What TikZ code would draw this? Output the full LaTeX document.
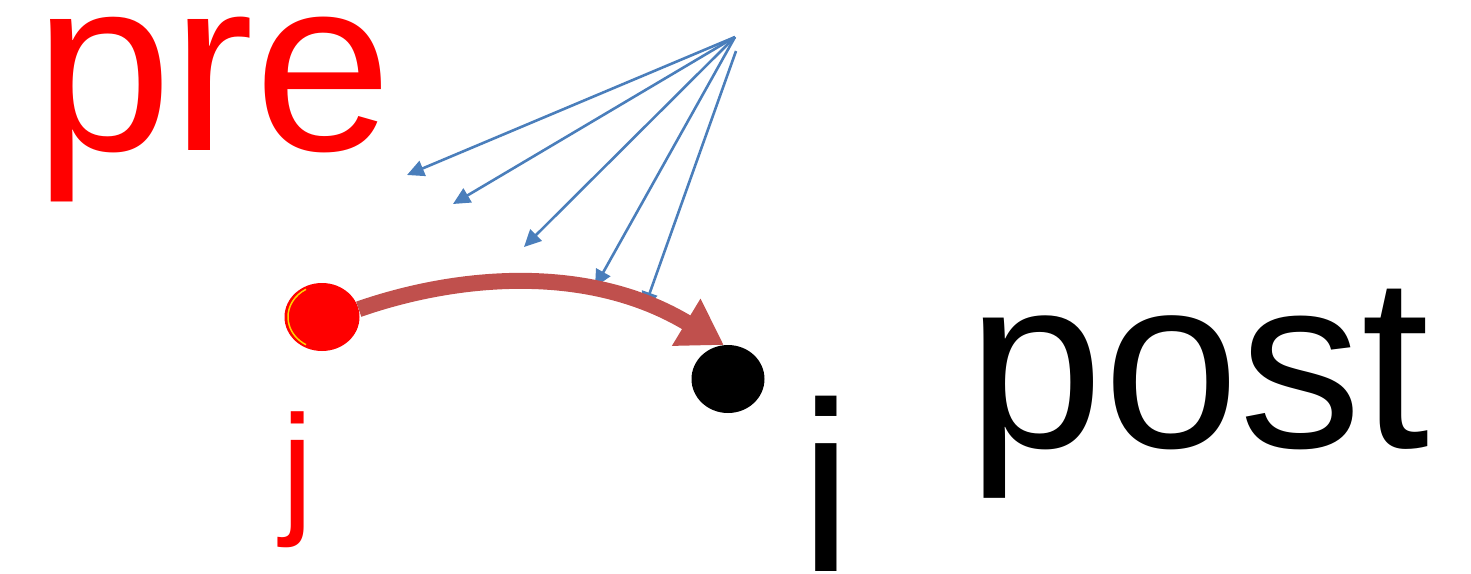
\documentclass[tikz,border=0pt]{standalone}
\usepackage{fontspec}
\setmainfont{Liberation Sans}
\usetikzlibrary{arrows.meta,shapes.geometric}
\definecolor{dotred}{HTML}{FF0000}
\definecolor{synred}{HTML}{C0504D}
\definecolor{inblue}{HTML}{4A7EBB}
\definecolor{rimyellow}{HTML}{FFD200}
\begin{document}
\begin{tikzpicture}[x=1pt,y=-1pt,
  lbl/.style={inner sep=0pt,outer sep=0pt,anchor=base west},
  dotnode/.style={ellipse,inner sep=0pt,minimum width=75pt,minimum height=68pt},
  inarrow/.style={draw=inblue,line width=2.6pt,-{Triangle[length=17pt,width=16pt]}},
  synarrow/.style={draw=synred,line width=16pt,-{Triangle[length=44pt,width=52pt]}}]
\useasboundingbox (0,0) rectangle (1471,573);
% labels
\node[lbl,text=dotred] (pre) at (34,150) {\fontsize{248}{248}\selectfont pre};
\node[lbl] (post) at (967,447) {\fontsize{245}{245}\selectfont post};
\node[inner sep=0pt,anchor=base,text=dotred] (jlbl) at (298,517) {\fontsize{146}{146}\selectfont j};
\node[inner sep=0pt,anchor=base] (ilbl) at (826,571) {\fontsize{242}{242}\selectfont i};
% dots
\node[dotnode,fill=dotred] (jdot) at (322,317) {};
\draw[rimyellow,line width=1.5pt] (324,317) ++(120:36 and 32) arc[start angle=120,end angle=240,x radius=36,y radius=32];
\node[dotnode,fill=black,minimum width=73pt] (idot) at (728,379) {};
% blue input arrows
\coordinate (src) at (735,37);
\coordinate (src2) at (736,51);
\coordinate (b1) at (407,175);
\coordinate (b2) at (453,204);
\coordinate (b3) at (524,247);
\coordinate (b4) at (595,287);
\coordinate (b5) at (644,309);
\draw[inarrow] (src) -- (b1);
\draw[inarrow] (src) -- (b2);
\draw[inarrow] (src) -- (b3);
\draw[inarrow] (src) -- (b4);
\draw[inarrow] (src2) -- (b5);
% synapse arrow
\draw[synarrow] (jdot.12) .. controls (460,274) and (590,264) .. (idot.97);
\end{tikzpicture}
\end{document}
